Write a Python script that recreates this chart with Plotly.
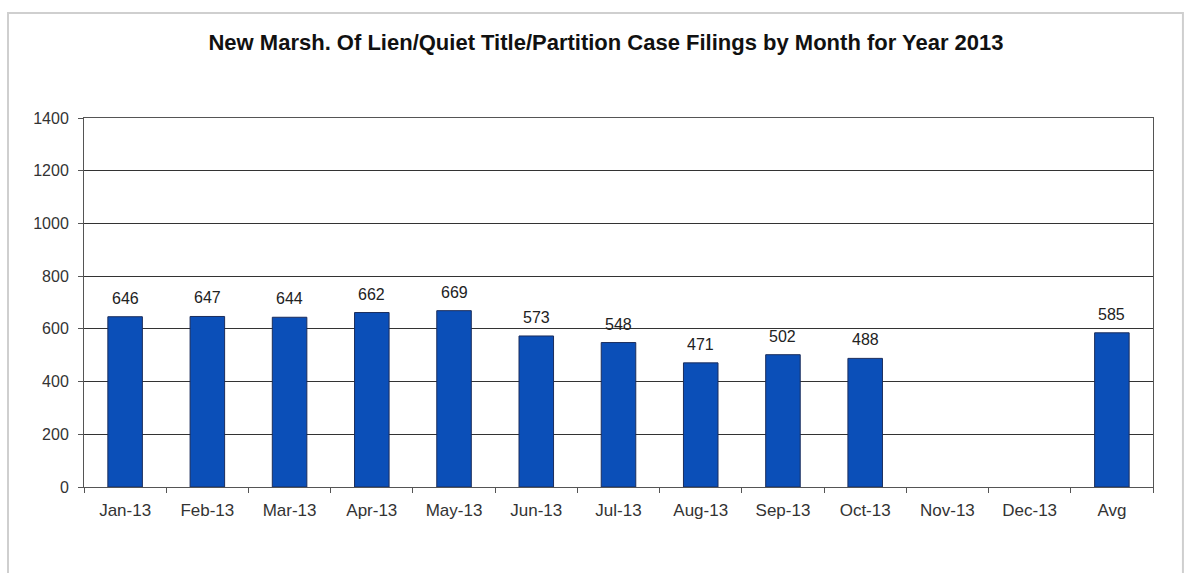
import plotly.graph_objects as go

months = ["Jan-13", "Feb-13", "Mar-13", "Apr-13", "May-13", "Jun-13", "Jul-13",
          "Aug-13", "Sep-13", "Oct-13", "Nov-13", "Dec-13", "Avg"]
filings = [646, 647, 644, 662, 669, 573, 548, 471, 502, 488, None, None, 585]
y_ticks = [0, 200, 400, 600, 800, 1000, 1200, 1400]

BAR_BLUE = "#0b4fb8"
FONT = "Liberation Sans, Arial, sans-serif"

fig = go.Figure()
fig.add_trace(go.Bar(
    x=months,
    y=filings,
    marker=dict(color=BAR_BLUE, line=dict(color="#1b2d5c", width=1)),
    width=0.42,
    hoverinfo="x+y",
))

# value labels above each bar
for m, v in zip(months, filings):
    if v is None:
        continue
    fig.add_annotation(x=m, y=v, text=str(v), showarrow=False,
                       yanchor="bottom", yshift=8,
                       font=dict(family=FONT, size=16, color="#222"))

# light frame around the whole chart
fig.add_shape(type="rect", xref="paper", yref="paper",
              x0=-0.0711, x1=1.028, y0=-0.26, y1=1.2846,
              line=dict(color="#cfcfcf", width=2), fillcolor="rgba(0,0,0,0)",
              layer="below")

fig.update_layout(
    width=1191, height=573,
    margin=dict(l=84, r=38, t=118, b=86),
    paper_bgcolor="white", plot_bgcolor="white",
    showlegend=False,
    title=dict(text="<b>New Marsh. Of Lien/Quiet Title/Partition Case Filings by Month for Year 2013</b>",
               x=606 / 1191, xanchor="center", xref="container",
               y=1 - 42 / 573, yanchor="middle",
               font=dict(family=FONT, size=22, color="#111")),
    font=dict(family=FONT, size=16, color="#333"),
)

fig.update_xaxes(
    type="category", showgrid=False, showline=True, linecolor="#555", linewidth=1,
    mirror=True, ticks="outside", ticklen=5, tickcolor="#555", tickson="boundaries",
    ticklabelstandoff=8,
    tickfont=dict(family=FONT, size=17, color="#333"),
)
fig.update_yaxes(
    range=[0, 1400], tickvals=y_ticks, showgrid=True, gridcolor="#333", gridwidth=1,
    showline=True, linecolor="#555", linewidth=1, mirror=True,
    ticks="outside", ticklen=5, tickcolor="#555", zeroline=False,
    ticklabelstandoff=6,
    tickfont=dict(family=FONT, size=16, color="#333"),
)

fig.write_html("out.html")
